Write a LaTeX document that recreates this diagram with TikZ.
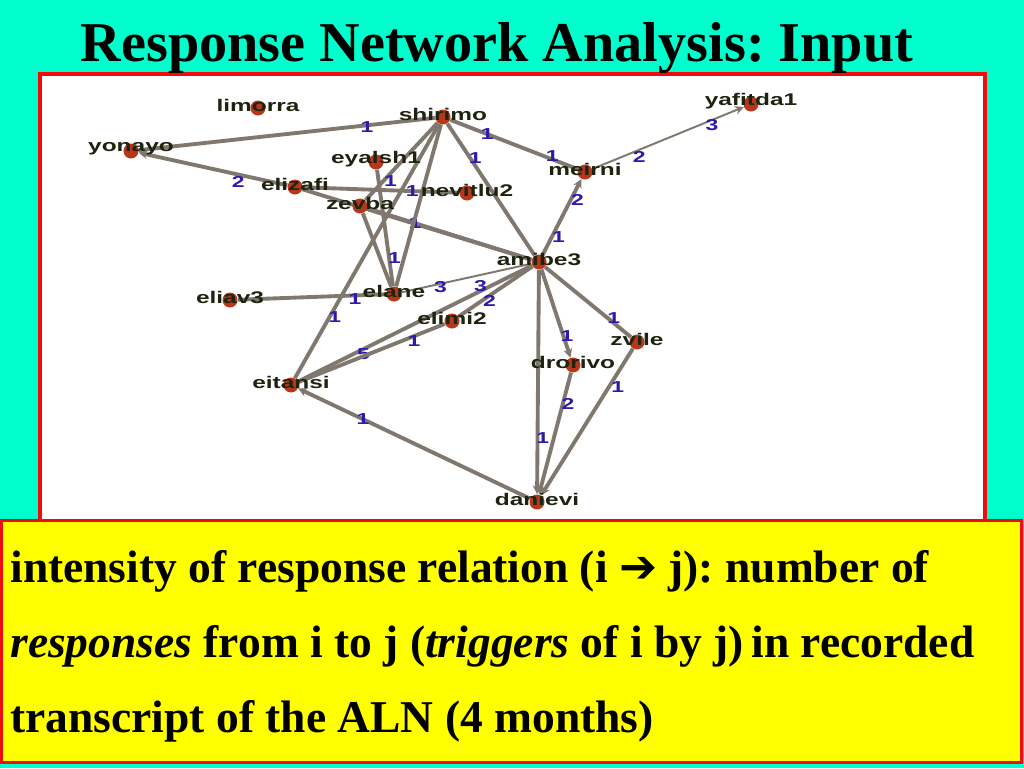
\documentclass[tikz,border=0pt]{standalone}
\usepackage{fontspec}
\setmainfont{Liberation Serif}
\newfontfamily\netfont{Liberation Sans}[FakeStretch=1.45]
\newfontfamily\arrowfont{DejaVu Sans}
\usepackage{xcolor}
\usetikzlibrary{arrows.meta}
\definecolor{slidebg}{RGB}{0,255,204}
\definecolor{framered}{RGB}{240,12,12}
\definecolor{boxyellow}{RGB}{255,255,0}
\definecolor{edgegray}{RGB}{128,120,110}
\definecolor{dotred}{RGB}{185,55,25}
\definecolor{namecol}{RGB}{30,35,15}
\definecolor{wtblue}{RGB}{45,25,170}
\pgfdeclarelayer{panel}
\pgfdeclarelayer{edges}
\pgfsetlayers{panel,edges,main}
\frenchspacing

\begin{document}
\begin{tikzpicture}[x=0.02cm,y=-0.02cm,
  person/.style={circle,fill=dotred,minimum size=0.3cm,inner sep=0pt},
  nick/.style={font=\netfont\bfseries\fontsize{9.6}{10}\selectfont,text=namecol,inner sep=0pt,yshift=1.5pt},
  link/.style={draw=edgegray,line width=2.2pt},
  thin link/.style={draw=edgegray,line width=1.1pt},
  wt/.style={font=\netfont\bfseries\fontsize{9}{9}\selectfont,text=wtblue,inner sep=0pt},
  tip/.style={-{Stealth[length=5pt,width=5pt]}},
  body/.style={font=\bfseries\fontsize{25.9}{28}\selectfont,anchor=base west,inner sep=0pt}]
  \useasboundingbox (0,0) rectangle (1024,768);
  \begin{pgfonlayer}{panel}
    \fill[slidebg] (0,0) rectangle (1024,768);
    \draw[framered,line width=2.3pt,fill=white] (40,74) rectangle (985,540);
  \end{pgfonlayer}
  \node[font=\bfseries\fontsize{32}{34}\selectfont,anchor=base,inner sep=0pt] (title) at (497,61) {Response Network Analysis: Input};
  % participants (pixel positions of the dots)
  \foreach \n/\x/\y in {limorra/258/108, shirimo/443/117, yafitda1/751/104, yonayo/131/151,
      eyalsh1/376/162, meirni/585/172, elizafi/295/187, nevitlu2/467/193, zevba/360/206,
      amibe3/539/262, eliav3/230/300, elane/394/294, elimi2/452/321, zvile/637/342,
      drorivo/573/365, eitansi/291/385, danievi/537/502}
    \node[person,label={[nick]center:\n}] (\n) at (\x,\y) {};
  \begin{pgfonlayer}{edges}
    \draw[link] (yonayo) -- node[wt,pos=.77,yshift=-1pt]{1} (shirimo);
    \draw[link,tip] (elizafi) -- node[wt,pos=.33,yshift=-4pt]{2} (yonayo);
    \draw[link] (elizafi) -- (amibe3);
    \draw[link] (zevba) -- node[wt,pos=.29]{1} (amibe3);
    \draw[link] (elizafi) -- node[wt,pos=.7]{1} (nevitlu2);
    \draw[link] (shirimo) -- node[wt,pos=.75,xshift=4pt]{1} (zevba);
    \draw[link] (shirimo) -- (elane);
    \draw[link] (shirimo) -- node[wt,pos=.76,xshift=3pt]{1} (eitansi);
    \draw[link] (eyalsh1) -- node[wt,pos=.76,xshift=3pt]{1} (elane);
    \draw[link] (zevba) -- (elane);
    \draw[link] (shirimo) -- node[wt,pos=.26,xshift=3pt]{1} (amibe3);
    \draw[link] (shirimo) -- node[wt,pos=.29]{1} node[wt,pos=.8,yshift=2pt]{1} (meirni);
    \draw[thin link,tip] (meirni) -- node[wt,pos=.31,yshift=-4pt]{2} node[wt,pos=.79,yshift=-3pt]{3} (yafitda1);
    \draw[link,tip] (amibe3) -- node[wt,pos=.23,xshift=4pt]{1} node[wt,pos=.72,xshift=4pt]{2} (meirni);
    \draw[link] (eliav3) -- node[wt,pos=.79,yshift=-2pt]{1} (elane);
    \draw[thin link] (elane) -- node[wt,pos=.3,yshift=-2pt]{3} (amibe3);
    \draw[link] (eitansi) -- node[wt,pos=.28,yshift=-3pt]{5} node[wt,pos=.78,yshift=3pt]{3} (amibe3);
    \draw[link] (elimi2) -- node[wt,pos=.42,yshift=-3pt]{2} (amibe3);
    \draw[link] (eitansi) -- node[wt,pos=.79,yshift=-3pt]{1} (elimi2);
    \draw[link,tip] (danievi) -- node[wt,pos=.72]{1} (eitansi);
    \draw[link,tip] (amibe3) -- node[wt,pos=.75,xshift=3pt]{1} (danievi);
    \draw[link,tip] (amibe3) -- node[wt,pos=.76,xshift=2pt]{1} (drorivo);
    \draw[link,tip] (drorivo) -- node[wt,pos=.26,xshift=3pt]{2} (danievi);
    \draw[link] (amibe3) -- node[wt,pos=.8,yshift=3pt]{1} (zvile);
    \draw[link,tip] (zvile) -- node[wt,pos=.26,xshift=5pt]{1} (danievi);
  \end{pgfonlayer}
  % explanation box
  \draw[framered,line width=1.7pt,fill=boxyellow] (1.5,520) rectangle (1021,762);
  \node[body] (line1) at (10,582) {intensity of response relation (i {\arrowfont\bfseries ➔} j): number of};
  \node[body] (line2) at (10,657) {{\itshape responses} from i to j ({\itshape triggers} of i by j)\,in recorded};
  \node[body] (line3) at (10,732) {transcript of the ALN (4 months)};
\end{tikzpicture}
\end{document}
